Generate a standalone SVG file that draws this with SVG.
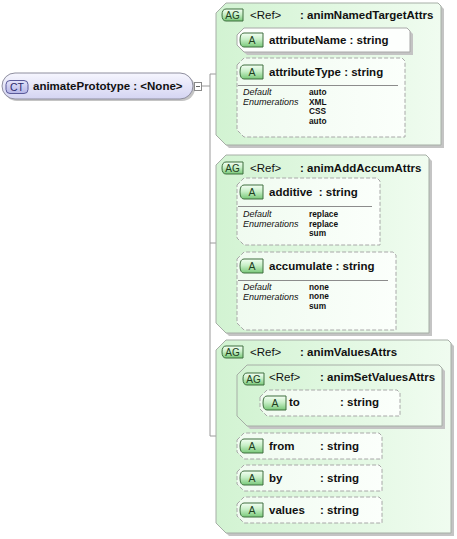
<svg xmlns="http://www.w3.org/2000/svg" width="457" height="539" viewBox="0 0 457 539">
<defs>
<linearGradient id="gAG" x1="0" y1="0" x2="1" y2="0">
<stop offset="0" stop-color="#d2f3d2"/>
<stop offset="1" stop-color="#f0fcf0"/>
</linearGradient>
<linearGradient id="gAttr" x1="0" y1="0" x2="1" y2="0">
<stop offset="0" stop-color="#f0fbf0"/>
<stop offset="1" stop-color="#fbfffb"/>
</linearGradient>
<linearGradient id="gBadge" x1="0" y1="0" x2="0" y2="1">
<stop offset="0" stop-color="#f4fff4"/>
<stop offset="0.45" stop-color="#c8efc8"/>
<stop offset="1" stop-color="#78c878"/>
</linearGradient>
<linearGradient id="gCT" x1="0" y1="0" x2="0" y2="1">
<stop offset="0" stop-color="#f6f6fe"/>
<stop offset="1" stop-color="#d4d4f2"/>
</linearGradient>
<linearGradient id="gCTb" x1="0" y1="0" x2="0" y2="1">
<stop offset="0" stop-color="#e4e4fa"/>
<stop offset="1" stop-color="#b4b4e6"/>
</linearGradient>
</defs>
<style>
.shadow{fill:#c4c4c4}
.ag{fill:url(#gAG);stroke:#a6aea6;stroke-width:1}
.attr{fill:url(#gAttr);stroke:#a8a8a8;stroke-width:1}
.dash{stroke-dasharray:4 2}
.solid{fill:#fdfffd}
.badge{fill:url(#gBadge);stroke:#3f6f3f;stroke-width:1}
.bt{font-family:"Liberation Sans",Arial,sans-serif;font-size:10.5px;fill:#1e3e1e;text-anchor:middle}
.lbl{font-family:"Liberation Sans",Arial,sans-serif;font-size:11.5px;font-weight:bold;fill:#111}
.ref{font-family:"Liberation Sans",Arial,sans-serif;font-size:11.5px;fill:#111}
.key{font-family:"Liberation Sans",Arial,sans-serif;font-size:9px;font-style:italic;fill:#111}
.val{font-family:"Liberation Sans",Arial,sans-serif;font-size:8.3px;font-weight:bold;fill:#111}
.sep{stroke:#8c8c8c;stroke-width:1}
.conn{stroke:#9a9a9a;stroke-width:1;fill:none}
</style>

<g id="connectors">
<path class="conn" d="M202 86 H210 M210 74 V436 M210 74 H216 M210 243 H216 M210 436 H216"/>
<path class="conn" d="M227 40 V97 M227 40 H237 M227 97 H237"/>
<path class="conn" d="M227 212 V291 M227 212 H237 M227 291 H237"/>
<path class="conn" d="M227 396 V510 M227 396 H237 M227 446 H237 M227 478 H237 M227 510 H237"/>
<path class="conn" d="M237 403 H260"/>
</g>

<g id="animatePrototype">
<rect x="4" y="75" width="191" height="26" rx="13" class="shadow"/>
<rect x="2" y="73" width="191" height="26" rx="13" fill="url(#gCT)" stroke="#8e8e9e"/>
<rect x="6" y="80.5" width="22" height="13" rx="4" fill="url(#gCTb)" stroke="#5a5a9a"/>
<text x="17" y="91" class="bt" style="fill:#2a2a6a">CT</text>
<text x="33" y="90" class="lbl">animatePrototype : &lt;None&gt;</text>
<rect x="194.5" y="82.5" width="7" height="8" fill="#fff" stroke="#8a8a8a"/>
<path d="M196 86.5 H200" stroke="#666"/>
</g>

<g id="animNamedTargetAttrs">
<path class="shadow" d="M219,16 L229,6 H441 L444,9 V148 H229 L219,138 Z"/>
<path class="ag" d="M216,13 L226,3 H438 L441,6 V145 H226 L216,135 Z"/>
<path class="badge" d="M226,9 H243 V21 H226 Q222,21 222,15 Q222,9 226,9 Z"/>
<text x="232.5" y="18.5" class="bt" style="font-size:10px">AG</text>
<text x="250" y="18.5" class="ref">&lt;Ref&gt;</text>
<text x="300" y="18.5" class="lbl">: animNamedTargetAttrs</text>
</g>

<g id="attributeName">
<path class="shadow" d="M240,38 L247,31 H410 L413,34 V55 H247 L240,48 Z"/>
<path class="attr solid" d="M237,35 L244,28 H407 L410,31 V52 H244 L237,45 Z"/>
<path class="badge" d="M244,33 H263 V47 H244 Q240,47 240,40 Q240,33 244,33 Z"/>
<text x="252" y="44" class="bt">A</text>
<text x="269" y="44" class="lbl">attributeName : string</text>
</g>

<g id="attributeType">
<path class="attr dash" d="M237,65 L244,58 H402 L405,61 V137 H244 L237,130 Z"/>
<path class="badge" d="M244,65 H263 V79 H244 Q240,79 240,72 Q240,65 244,65 Z"/>
<text x="252" y="76" class="bt">A</text>
<text x="269" y="75.5" class="lbl">attributeType : string</text>
<path class="sep" d="M238 85.5 H398"/>
<text x="243" y="95" class="key">Default</text>
<text x="243" y="104.5" class="key">Enumerations</text>
<text x="309" y="95" class="val">auto</text>
<text x="309" y="104.5" class="val">XML</text>
<text x="309" y="114" class="val">CSS</text>
<text x="309" y="123.5" class="val">auto</text>
</g>

<g id="animAddAccumAttrs">
<path class="shadow" d="M219,168 L229,158 H429 L432,161 V336 H229 L219,326 Z"/>
<path class="ag" d="M216,165 L226,155 H426 L429,158 V333 H226 L216,323 Z"/>
<path class="badge" d="M226,162 H243 V174 H226 Q222,174 222,168 Q222,162 226,162 Z"/>
<text x="232.5" y="171.5" class="bt" style="font-size:10px">AG</text>
<text x="250" y="171.5" class="ref">&lt;Ref&gt;</text>
<text x="300" y="171.5" class="lbl">: animAddAccumAttrs</text>
</g>

<g id="additive">
<path class="attr dash" d="M237,185 L244,178 H377 L380,181 V245 H244 L237,238 Z"/>
<path class="badge" d="M244,185 H263 V199 H244 Q240,199 240,192 Q240,185 244,185 Z"/>
<text x="252" y="196" class="bt">A</text>
<text x="269" y="196" class="lbl" xml:space="preserve">additive  : string</text>
<path class="sep" d="M238 206.5 H372"/>
<text x="243" y="217" class="key">Default</text>
<text x="243" y="226.5" class="key">Enumerations</text>
<text x="309" y="217" class="val">replace</text>
<text x="309" y="226.5" class="val">replace</text>
<text x="309" y="236" class="val">sum</text>
</g>

<g id="accumulate">
<path class="attr dash" d="M237,259 L244,252 H393 L396,255 V330 H244 L237,323 Z"/>
<path class="badge" d="M244,259 H263 V273 H244 Q240,273 240,266 Q240,259 244,259 Z"/>
<text x="252" y="270" class="bt">A</text>
<text x="269" y="269.5" class="lbl">accumulate : string</text>
<path class="sep" d="M238 280.5 H388"/>
<text x="243" y="290" class="key">Default</text>
<text x="243" y="299.5" class="key">Enumerations</text>
<text x="309" y="289.5" class="val">none</text>
<text x="309" y="299" class="val">none</text>
<text x="309" y="308.5" class="val">sum</text>
</g>

<g id="animValuesAttrs">
<path class="shadow" d="M219,353 L229,343 H451 L454,346 V536 H229 L219,526 Z"/>
<path class="ag" d="M216,350 L226,340 H448 L451,343 V533 H226 L216,523 Z"/>
<path class="badge" d="M226,346 H243 V358 H226 Q222,358 222,352 Q222,346 226,346 Z"/>
<text x="232.5" y="355.5" class="bt" style="font-size:10px">AG</text>
<text x="250" y="355.5" class="ref">&lt;Ref&gt;</text>
<text x="300" y="355.5" class="lbl">: animValuesAttrs</text>
</g>

<g id="animSetValuesAttrs">
<path class="shadow" d="M240,378 L250,368 H442 L445,371 V429 H250 L240,419 Z"/>
<path class="ag" d="M237,375 L247,365 H439 L442,368 V426 H247 L237,416 Z"/>
<path class="badge" d="M247,373 H264 V385 H247 Q243,385 243,379 Q243,373 247,373 Z"/>
<text x="253.5" y="382.5" class="bt" style="font-size:10px">AG</text>
<text x="269" y="380.5" class="ref">&lt;Ref&gt;</text>
<text x="320" y="380.5" class="lbl">: animSetValuesAttrs</text>
</g>

<g id="to">
<path class="attr dash" d="M260,397 L267,390 H397 L400,393 V416 H267 L260,409 Z"/>
<path class="badge" d="M267,396 H286 V410 H267 Q263,410 263,403 Q263,396 267,396 Z"/>
<text x="275" y="407" class="bt">A</text>
<text y="406" class="lbl"><tspan x="289">to</tspan><tspan x="340">: string</tspan></text>
</g>

<g id="from">
<path class="attr dash" d="M237,440 L244,433 H379 L382,436 V459 H244 L237,452 Z"/>
<path class="badge" d="M244,439 H263 V453 H244 Q240,453 240,446 Q240,439 244,439 Z"/>
<text x="252" y="450" class="bt">A</text>
<text y="449.5" class="lbl"><tspan x="269">from</tspan><tspan x="320">: string</tspan></text>
</g>

<g id="by">
<path class="attr dash" d="M237,472 L244,465 H379 L382,468 V491 H244 L237,484 Z"/>
<path class="badge" d="M244,471 H263 V485 H244 Q240,485 240,478 Q240,471 244,471 Z"/>
<text x="252" y="482" class="bt">A</text>
<text y="481.5" class="lbl"><tspan x="269">by</tspan><tspan x="320">: string</tspan></text>
</g>

<g id="values">
<path class="attr dash" d="M237,504 L244,497 H379 L382,500 V523 H244 L237,516 Z"/>
<path class="badge" d="M244,503 H263 V517 H244 Q240,517 240,510 Q240,503 244,503 Z"/>
<text x="252" y="514" class="bt">A</text>
<text y="513.5" class="lbl"><tspan x="269">values</tspan><tspan x="320">: string</tspan></text>
</g>
</svg>
